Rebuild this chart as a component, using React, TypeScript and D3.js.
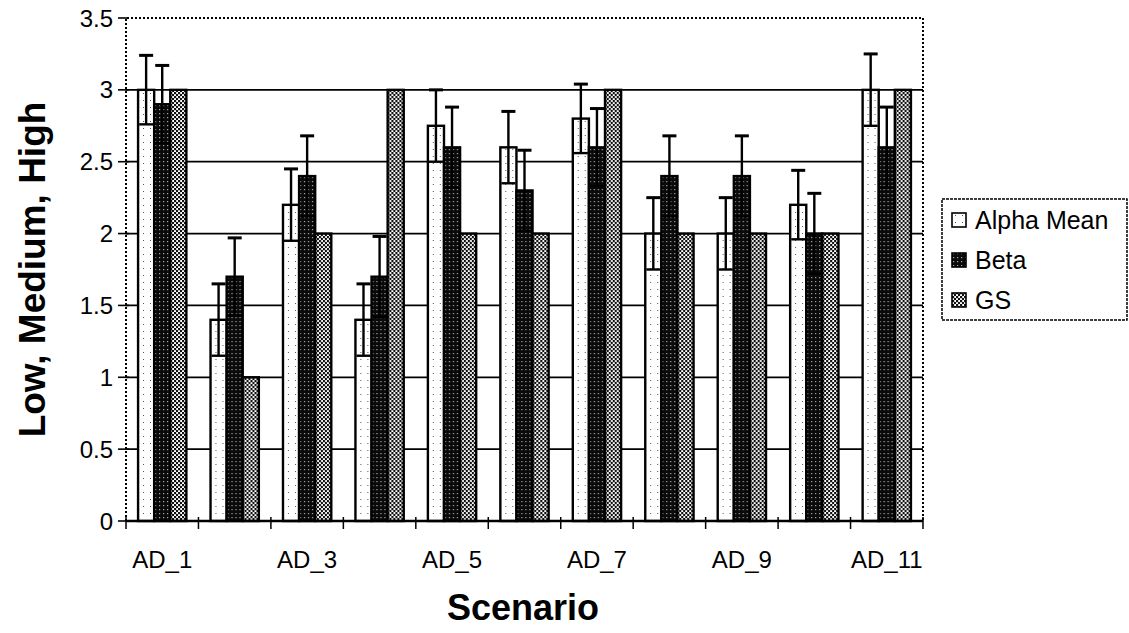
import { useMemo } from 'react'
import * as d3 from 'd3'

const categories = ['AD_1', 'AD_2', 'AD_3', 'AD_4', 'AD_5', 'AD_6', 'AD_7', 'AD_8', 'AD_9', 'AD_10', 'AD_11']
const seriesNames = ['Alpha Mean', 'Beta', 'GS']

const alphaMean = [3.0, 1.4, 2.2, 1.4, 2.75, 2.6, 2.8, 2.0, 2.0, 2.2, 3.0]
const alphaErr = [0.24, 0.25, 0.25, 0.25, 0.25, 0.25, 0.24, 0.25, 0.25, 0.24, 0.25]
const beta = [2.9, 1.7, 2.4, 1.7, 2.6, 2.3, 2.6, 2.4, 2.4, 2.0, 2.6]
const betaErr = [0.27, 0.27, 0.28, 0.28, 0.28, 0.28, 0.27, 0.28, 0.28, 0.28, 0.28]
const gs = [3, 1, 2, 3, 2, 2, 3, 2, 2, 2, 3]

const yTicks = [0, 0.5, 1, 1.5, 2, 2.5, 3, 3.5]
const xTickLabels = ['AD_1', 'AD_3', 'AD_5', 'AD_7', 'AD_9', 'AD_11']

const W = 1129
const H = 633
const FONT = '"Liberation Sans", Arial, Helvetica, sans-serif'

const fills = ['url(#pat-alpha)', 'url(#pat-beta)', 'url(#pat-gs)']

export default function App() {
  const x0 = 126
  const x1 = 923
  const yTop = 18
  const yBottom = 521

  const { x, xs, y } = useMemo(() => {
    const x = d3.scaleBand<string>().domain(categories).range([x0, x1]).padding(0)
    // Excel-style 150% gap: 3 bars + 0.75 bar on each side
    const xs = d3.scaleBand<string>().domain(seriesNames).range([0, x.bandwidth()]).paddingInner(0).paddingOuter(0.75)
    const y = d3.scaleLinear().domain([0, 3.5]).range([yBottom, yTop])
    return { x, xs, y }
  }, [])

  const values = [alphaMean, beta, gs]
  const errors: Array<number[] | null> = [alphaErr, betaErr, null]
  const bw = xs.bandwidth()
  const capW = 14

  return (
    <svg width={W} height={H} style={{ position: 'absolute', left: 0, top: 0, background: '#fff' }}>
      <defs>
        <pattern id="pat-alpha" width={7} height={7} patternUnits="userSpaceOnUse">
          <rect width={7} height={7} fill="#fff" />
          <rect x={3} y={2} width={1} height={1} fill="#555" />
        </pattern>
        <pattern id="pat-beta" width={4} height={4} patternUnits="userSpaceOnUse">
          <rect width={4} height={4} fill="#0a0a0a" />
          <rect x={1} y={1} width={1.2} height={1.2} fill="#aaa" />
        </pattern>
        <pattern id="pat-gs" width={4} height={4} patternUnits="userSpaceOnUse">
          <rect width={4} height={4} fill="#fff" />
          <rect x={0} y={0} width={2.2} height={2.2} fill="#111" />
          <rect x={2} y={2} width={2.2} height={2.2} fill="#111" />
        </pattern>
      </defs>

      {/* gridlines */}
      {yTicks.filter((t) => t > 0 && t < 3.5).map((t) => (
        <line key={t} x1={x0} x2={x1} y1={y(t)} y2={y(t)} stroke="#000" strokeWidth={1.8} />
      ))}

      {/* plot border, dotted */}
      <path
        d={`M${x0},${yBottom}V${yTop}H${x1}V${yBottom}`}
        fill="none"
        stroke="#000"
        strokeWidth={2}
        strokeDasharray="2,2"
      />

      {/* bars */}
      {categories.map((c, i) => (
        <g key={c} transform={`translate(${x(c)},0)`}>
          {seriesNames.map((s, k) => {
            const v = values[k][i]
            return (
              <rect
                key={s}
                x={xs(s)}
                y={y(v)}
                width={bw}
                height={y(0) - y(v)}
                fill={fills[k]}
                stroke="#000"
                strokeWidth={2.4}
              />
            )
          })}
        </g>
      ))}

      {/* error bars */}
      {categories.map((c, i) => (
        <g key={c} transform={`translate(${x(c)},0)`}>
          {seriesNames.map((s, k) => {
            const e = errors[k]
            if (!e) return null
            const v = values[k][i]
            const cx = (xs(s) ?? 0) + bw / 2
            const hi = y(v + e[i])
            const lo = y(v - e[i])
            return (
              <g key={s} stroke="#000" strokeWidth={2.4}>
                <line x1={cx} x2={cx} y1={hi} y2={lo} />
                <line x1={cx - capW / 2} x2={cx + capW / 2} y1={hi} y2={hi} strokeWidth={3} />
                <line x1={cx - capW / 2} x2={cx + capW / 2} y1={lo} y2={lo} />
              </g>
            )
          })}
        </g>
      ))}

      {/* x axis */}
      <line x1={x0} x2={x1} y1={yBottom} y2={yBottom} stroke="#000" strokeWidth={2.4} />
      {[...categories.map((c) => x(c) ?? 0), x1].map((px, i) => (
        <line key={i} x1={px} x2={px} y1={yBottom - 4} y2={yBottom + 8} stroke="#000" strokeWidth={1.5} />
      ))}
      {categories.map((c) =>
        xTickLabels.includes(c) ? (
          <text
            key={c}
            x={(x(c) ?? 0) + x.bandwidth() / 2}
            y={568}
            textAnchor="middle"
            fontFamily={FONT}
            fontSize={24}
            fill="#000"
          >
            {c}
          </text>
        ) : null,
      )}

      {/* y axis */}
      {yTicks.map((t) => (
        <g key={t}>
          <line x1={x0 - 8} x2={x0 + 3} y1={y(t)} y2={y(t)} stroke="#000" strokeWidth={1.6} />
          <text
            x={x0 - 13}
            y={y(t)}
            dy="0.36em"
            textAnchor="end"
            fontFamily={FONT}
            fontSize={24}
            fill="#000"
          >
            {t}
          </text>
        </g>
      ))}

      {/* axis titles */}
      <text
        transform={`translate(45,${(yTop + yBottom) / 2}) rotate(-90)`}
        textAnchor="middle"
        fontFamily={FONT}
        fontSize={37}
        fontWeight="bold"
        fill="#000"
      >
        Low, Medium, High
      </text>
      <text x={523} y={620} textAnchor="middle" fontFamily={FONT} fontSize={36} fontWeight="bold" fill="#000">
        Scenario
      </text>

      {/* legend */}
      <g>
        <rect x={942} y={199} width={185} height={121} fill="#fff" stroke="#000" strokeWidth={1.5} strokeDasharray="3,1" />
        {seriesNames.map((s, k) => (
          <g key={s} transform={`translate(952,${220 + k * 40})`}>
            <rect x={0} y={-7} width={14} height={14} fill={fills[k]} stroke="#000" strokeWidth={1.6} />
            <text x={23} y={0} dy="0.36em" fontFamily={FONT} fontSize={25} fill="#000">
              {s}
            </text>
          </g>
        ))}
      </g>
    </svg>
  )
}
